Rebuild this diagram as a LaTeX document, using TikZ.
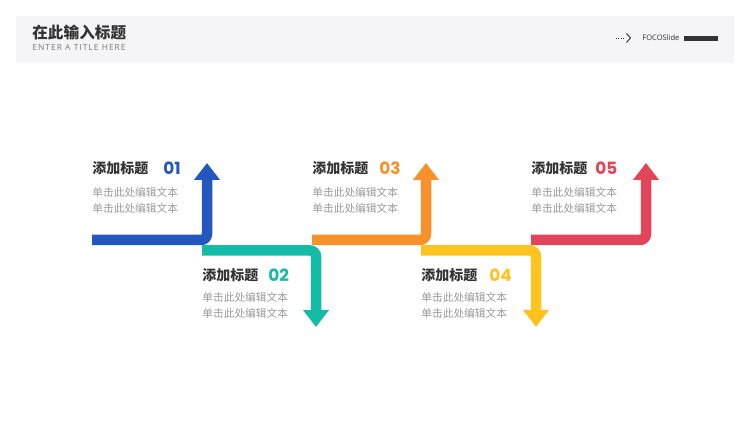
\documentclass[tikz,border=0pt]{standalone}
\usepackage{fontspec}
\setmainfont{Noto Sans CJK SC}
\newfontfamily\numfont{Poppins}
\newfontfamily\capfont[LetterSpace=12]{Open Sans}
\newfontfamily\latfont{Open Sans}
\usetikzlibrary{arrows.meta}

\definecolor{headgray}{HTML}{F5F5F7}
\definecolor{titlegray}{HTML}{333333}
\definecolor{subgray}{HTML}{7A7A7A}
\definecolor{bodygray}{HTML}{9A9A9A}
\definecolor{bardark}{HTML}{333333}
\definecolor{stepblue}{HTML}{2357BF}
\definecolor{stepteal}{HTML}{14BBA6}
\definecolor{steporange}{HTML}{F7912B}
\definecolor{stepyellow}{HTML}{FDC31E}
\definecolor{stepred}{HTML}{E2445A}

\begin{document}
\begin{tikzpicture}[line join=round,
  flowarrow/.style={line width=0.21cm,rounded corners=0.12cm,
    -{Triangle[width=0.5cm,length=0.34cm]}},
  steptitle/.style={anchor=west,inner sep=0,text=titlegray,
    font=\bfseries\fontsize{7.97}{9}\selectfont},
  stepnum/.style={anchor=west,inner sep=0,
    font=\numfont\bfseries\fontsize{9.6}{11}\selectfont},
  stepbody/.style={anchor=west,inner sep=0,text=bodygray,align=left,
    font=\fontsize{6.1}{8.9}\selectfont}]
  \useasboundingbox (0,0) rectangle (15,8.44);
  % header band
  \fill[headgray] (0.32,7.18) rectangle (14.68,8.12);
  \node[anchor=west,inner sep=0,text=titlegray,font=\bfseries\fontsize{8.9}{10}\selectfont]
    (title) at (0.64,7.79) {在此输入标题};
  \node[anchor=west,inner sep=0,text=subgray,font=\capfont\fontsize{4.8}{5}\selectfont]
    (subtitle) at (0.64,7.50) {ENTER A TITLE HERE};
  \draw[line width=0.5pt,dash pattern=on 0.5pt off 0.9pt,titlegray] (12.32,7.68) -- (12.50,7.68);
  \draw[line width=0.55pt,titlegray] (12.53,7.77) -- (12.61,7.68) -- (12.53,7.59);
  \node[anchor=west,inner sep=0,text=titlegray,font=\latfont\fontsize{4.3}{5}\selectfont]
    (brand) at (12.84,7.68) {FOCOSlide};
  \fill[bardark] (13.68,7.62) rectangle (14.36,7.72);

  % arrow points
  \coordinate (S1) at (1.84,3.64);
  \coordinate (C1) at (4.14,3.64);
  \coordinate (T1) at (4.14,5.18);
  \coordinate (S2) at (4.04,3.43);
  \coordinate (C2) at (6.32,3.43);
  \coordinate (T2) at (6.32,1.90);
  \coordinate (S3) at (6.24,3.64);
  \coordinate (C3) at (8.52,3.64);
  \coordinate (T3) at (8.52,5.18);
  \coordinate (S4) at (8.42,3.43);
  \coordinate (C4) at (10.72,3.43);
  \coordinate (T4) at (10.72,1.90);
  \coordinate (S5) at (10.62,3.64);
  \coordinate (C5) at (12.92,3.64);
  \coordinate (T5) at (12.92,5.18);
  \draw[flowarrow,stepblue] (S1) -- (C1) -- (T1);
  \draw[flowarrow,stepteal] (S2) -- (C2) -- (T2);
  \draw[flowarrow,steporange] (S3) -- (C3) -- (T3);
  \draw[flowarrow,stepyellow] (S4) -- (C4) -- (T4);
  \draw[flowarrow,stepred] (S5) -- (C5) -- (T5);

  % labels
  \node[steptitle] (t1) at (1.84,5.08) {添加标题};
  \node[stepnum,text=stepblue] (n1) at (3.26,5.08) {01};
  \node[stepbody] (b1) at (1.84,4.43) {单击此处编辑文本\\单击此处编辑文本};
  \node[steptitle] (t2) at (4.04,2.94) {添加标题};
  \node[stepnum,text=stepteal] (n2) at (5.36,2.94) {02};
  \node[stepbody] (b2) at (4.04,2.33) {单击此处编辑文本\\单击此处编辑文本};
  \node[steptitle] (t3) at (6.24,5.08) {添加标题};
  \node[stepnum,text=steporange] (n3) at (7.58,5.08) {03};
  \node[stepbody] (b3) at (6.24,4.43) {单击此处编辑文本\\单击此处编辑文本};
  \node[steptitle] (t4) at (8.42,2.94) {添加标题};
  \node[stepnum,text=stepyellow] (n4) at (9.78,2.94) {04};
  \node[stepbody] (b4) at (8.42,2.33) {单击此处编辑文本\\单击此处编辑文本};
  \node[steptitle] (t5) at (10.62,5.08) {添加标题};
  \node[stepnum,text=stepred] (n5) at (11.90,5.08) {05};
  \node[stepbody] (b5) at (10.62,4.43) {单击此处编辑文本\\单击此处编辑文本};
\end{tikzpicture}
\end{document}
